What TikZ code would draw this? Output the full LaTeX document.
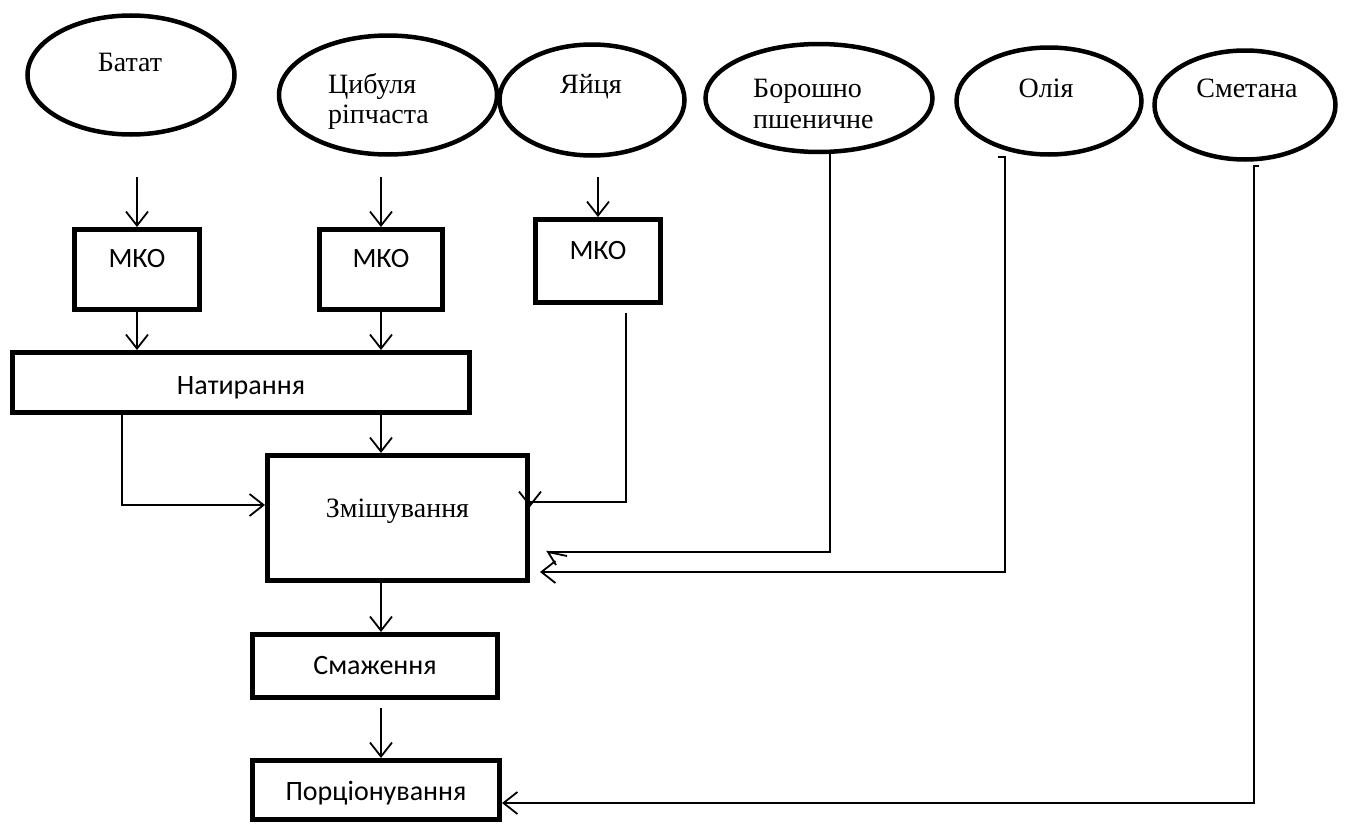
\documentclass[tikz,border=0pt]{standalone}
\usepackage{fontspec}
\setmainfont{Liberation Serif}
\newfontfamily\calibri{Carlito}
\usetikzlibrary{shapes.geometric,arrows.meta}
\tikzset{>={Straight Barb[length=14pt,width=22pt]}}
\tikzset{
  ingr/.style={draw,ellipse,line width=4.5pt,inner sep=0pt},
  ingrtext/.style={inner sep=0pt,font=\fontsize{28}{30}\selectfont},
  oper/.style={draw,rectangle,line width=5pt,inner sep=0pt,
    text height=18pt,text depth=0pt,font=\calibri\fontsize{28}{30}\selectfont},
  flow/.style={->,line width=1.8pt},
}

\begin{document}
\begin{tikzpicture}[x=1pt,y=-1pt]
        \useasboundingbox (0,0) rectangle (1345,827);

        % raw materials
        \node[ingr,minimum width=207pt,minimum height=119pt] (batat) at (131,75) {};
        \node[ingr,minimum width=218pt,minimum height=119pt] (cybulia) at (388,95) {};
        \node[ingr,minimum width=185pt,minimum height=111pt] (yaitsia) at (592,100) {};
        \node[ingr,minimum width=227pt,minimum height=108pt] (boroshno) at (819,98) {};
        \node[ingr,minimum width=185pt,minimum height=107pt] (oliia) at (1049,101) {};
        \node[ingr,minimum width=181pt,minimum height=109pt] (smetana) at (1245,105) {};

        \node[ingrtext,anchor=base] (batat-t) at (130,71) {Батат};
        \node[ingrtext,align=left,anchor=north west] (cybulia-t) at (328,73) {Цибуля\\ріпчаста};
        \node[ingrtext,anchor=base] (yaitsia-t) at (591,93) {Яйця};
        \node[ingrtext,align=left,anchor=north west,font=\fontsize{28}{31}\selectfont] (boroshno-t) at (753,79) {Борошно\\пшеничне};
        \node[ingrtext,anchor=base] (oliia-t) at (1046,97) {Олія};
        \node[ingrtext,anchor=base] (smetana-t) at (1247,97) {Сметана};

        % operations
        \node[oper,minimum width=125pt,minimum height=80pt,text depth=23pt] (mko1) at (137,269.5) {МКО};
        \node[oper,minimum width=123pt,minimum height=80pt,text depth=23pt] (mko2) at (381,269.5) {МКО};
        \node[oper,minimum width=125pt,minimum height=83pt,text depth=22pt] (mko3) at (598,261) {МКО};
        \node[oper,minimum width=457pt,minimum height=60pt,text height=24pt] (natyr) at (241,382.5) {Натирання};
        \node[oper,minimum width=260pt,minimum height=125pt,text depth=20pt,
              font=\fontsize{28}{30}\selectfont] (zmish) at (397.5,518) {Змішування};
        \node[oper,minimum width=245pt,minimum height=63pt,text depth=2pt] (smazh) at (375,666) {Смаження};
        \node[oper,minimum width=247pt,minimum height=59pt,text height=20pt] (portsi) at (376,790) {Порціонування};

        \draw[flow,shorten <=40pt] (mko1.north |- batat.south) -- (mko1.north);
        \draw[flow,shorten <=20pt] (mko2.north |- cybulia.south) -- (mko2.north);
        \draw[flow,shorten <=19pt] (mko3.north |- yaitsia.south) -- (mko3.north);

        \draw[flow] (mko1.south) -- (mko1.south |- natyr.north);
        \draw[flow] (mko2.south) -- (mko2.south |- natyr.north);
        \draw[flow] (natyr.south -| mko2) -- (zmish.north -| mko2);
        \draw[flow] ([xshift=112pt]natyr.south west) |- ([yshift=13pt]zmish.west);
        \draw[flow] ([xshift=28pt,yshift=-8pt]mko3.south) |- ([yshift=16pt]zmish.east)
            -- ([yshift=11pt]zmish.east);

        \draw[line width=1.8pt] ([xshift=11pt]boroshno.south) |- ([xshift=18pt,yshift=-34pt]zmish.east) coordinate (bor-end);
        \draw[line width=1.8pt] ([shift={(19,4)}]bor-end) -- (bor-end) -- ([shift={(8,13)}]bor-end);
        \draw[flow] ([xshift=-51pt]oliia.south) -- ++(7,0) |- ([xshift=10pt,yshift=-54pt]zmish.east);
        \draw[flow] ([xshift=14pt,yshift=-4pt]smetana.south) -- ++(-5,0) |- ([yshift=-13pt]portsi.east);

        \draw[flow] (zmish.south -| mko2) -- (smazh.north -| mko2);
        \draw[flow,shorten <=8pt] (smazh.south -| mko2) -- (portsi.north -| mko2);
    \end{tikzpicture}
\end{document}
